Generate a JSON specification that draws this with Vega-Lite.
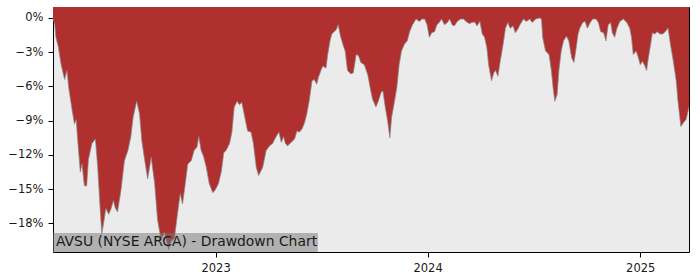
{
  "$schema": "https://vega.github.io/schema/vega-lite/v6.json",
  "autosize": {"type": "none"},
  "width": 636,
  "height": 245,
  "padding": {"left": 53, "top": 7, "right": 11, "bottom": 28},
  "background": "white",
  "config": {
    "view": {"stroke": "black", "strokeWidth": 1, "fill": "#ebebeb"},
    "axis": {
      "domain": false,
      "grid": false,
      "ticks": true,
      "tickColor": "black",
      "tickSize": 5,
      "labelFont": "DejaVu Sans",
      "labelFontSize": 11.5,
      "labelColor": "#1a1a1a",
      "labelPadding": 4,
      "title": null
    }
  },
  "datasets": {
    "dd": [
      {"date": "2022-03-27", "dd": 0},
      {"date": "2022-03-30", "dd": -0.0057},
      {"date": "2022-04-01", "dd": -0.017},
      {"date": "2022-04-05", "dd": -0.025},
      {"date": "2022-04-10", "dd": -0.041},
      {"date": "2022-04-16", "dd": -0.054},
      {"date": "2022-04-20", "dd": -0.046},
      {"date": "2022-04-23", "dd": -0.061},
      {"date": "2022-04-29", "dd": -0.081},
      {"date": "2022-05-03", "dd": -0.093},
      {"date": "2022-05-06", "dd": -0.089},
      {"date": "2022-05-08", "dd": -0.104},
      {"date": "2022-05-13", "dd": -0.135},
      {"date": "2022-05-16", "dd": -0.128},
      {"date": "2022-05-20", "dd": -0.147},
      {"date": "2022-05-24", "dd": -0.147},
      {"date": "2022-05-27", "dd": -0.124},
      {"date": "2022-06-02", "dd": -0.110},
      {"date": "2022-06-08", "dd": -0.106},
      {"date": "2022-06-12", "dd": -0.131},
      {"date": "2022-06-16", "dd": -0.166},
      {"date": "2022-06-19", "dd": -0.189},
      {"date": "2022-06-22", "dd": -0.180},
      {"date": "2022-06-26", "dd": -0.167},
      {"date": "2022-07-01", "dd": -0.172},
      {"date": "2022-07-05", "dd": -0.167},
      {"date": "2022-07-09", "dd": -0.160},
      {"date": "2022-07-12", "dd": -0.166},
      {"date": "2022-07-16", "dd": -0.170},
      {"date": "2022-07-22", "dd": -0.151},
      {"date": "2022-07-28", "dd": -0.125},
      {"date": "2022-08-03", "dd": -0.116},
      {"date": "2022-08-08", "dd": -0.104},
      {"date": "2022-08-12", "dd": -0.087},
      {"date": "2022-08-18", "dd": -0.073},
      {"date": "2022-08-23", "dd": -0.084},
      {"date": "2022-08-27", "dd": -0.108},
      {"date": "2022-09-01", "dd": -0.125},
      {"date": "2022-09-06", "dd": -0.141},
      {"date": "2022-09-12", "dd": -0.122},
      {"date": "2022-09-18", "dd": -0.145},
      {"date": "2022-09-23", "dd": -0.177},
      {"date": "2022-09-29", "dd": -0.194},
      {"date": "2022-10-05", "dd": -0.188},
      {"date": "2022-10-12", "dd": -0.203},
      {"date": "2022-10-16", "dd": -0.196},
      {"date": "2022-10-22", "dd": -0.193},
      {"date": "2022-10-28", "dd": -0.169},
      {"date": "2022-11-01", "dd": -0.154},
      {"date": "2022-11-05", "dd": -0.163},
      {"date": "2022-11-09", "dd": -0.148},
      {"date": "2022-11-14", "dd": -0.128},
      {"date": "2022-11-20", "dd": -0.125},
      {"date": "2022-11-25", "dd": -0.116},
      {"date": "2022-11-30", "dd": -0.113},
      {"date": "2022-12-03", "dd": -0.104},
      {"date": "2022-12-07", "dd": -0.116},
      {"date": "2022-12-11", "dd": -0.121},
      {"date": "2022-12-16", "dd": -0.131},
      {"date": "2022-12-21", "dd": -0.145},
      {"date": "2022-12-27", "dd": -0.153},
      {"date": "2022-12-31", "dd": -0.151},
      {"date": "2023-01-06", "dd": -0.145},
      {"date": "2023-01-11", "dd": -0.134},
      {"date": "2023-01-15", "dd": -0.118},
      {"date": "2023-01-19", "dd": -0.116},
      {"date": "2023-01-25", "dd": -0.110},
      {"date": "2023-01-29", "dd": -0.100},
      {"date": "2023-02-02", "dd": -0.078},
      {"date": "2023-02-07", "dd": -0.073},
      {"date": "2023-02-11", "dd": -0.076},
      {"date": "2023-02-15", "dd": -0.074},
      {"date": "2023-02-19", "dd": -0.084},
      {"date": "2023-02-25", "dd": -0.099},
      {"date": "2023-03-03", "dd": -0.100},
      {"date": "2023-03-07", "dd": -0.110},
      {"date": "2023-03-12", "dd": -0.131},
      {"date": "2023-03-16", "dd": -0.138},
      {"date": "2023-03-20", "dd": -0.134},
      {"date": "2023-03-23", "dd": -0.131},
      {"date": "2023-03-29", "dd": -0.116},
      {"date": "2023-04-04", "dd": -0.112},
      {"date": "2023-04-09", "dd": -0.110},
      {"date": "2023-04-15", "dd": -0.104},
      {"date": "2023-04-20", "dd": -0.100},
      {"date": "2023-04-24", "dd": -0.109},
      {"date": "2023-04-28", "dd": -0.104},
      {"date": "2023-05-01", "dd": -0.110},
      {"date": "2023-05-05", "dd": -0.112},
      {"date": "2023-05-11", "dd": -0.109},
      {"date": "2023-05-17", "dd": -0.106},
      {"date": "2023-05-21", "dd": -0.099},
      {"date": "2023-05-25", "dd": -0.100},
      {"date": "2023-05-30", "dd": -0.097},
      {"date": "2023-06-03", "dd": -0.092},
      {"date": "2023-06-07", "dd": -0.084},
      {"date": "2023-06-11", "dd": -0.073},
      {"date": "2023-06-16", "dd": -0.055},
      {"date": "2023-06-20", "dd": -0.054},
      {"date": "2023-06-24", "dd": -0.058},
      {"date": "2023-06-27", "dd": -0.052},
      {"date": "2023-07-02", "dd": -0.045},
      {"date": "2023-07-05", "dd": -0.042},
      {"date": "2023-07-10", "dd": -0.044},
      {"date": "2023-07-13", "dd": -0.032},
      {"date": "2023-07-17", "dd": -0.020},
      {"date": "2023-07-20", "dd": -0.014},
      {"date": "2023-07-24", "dd": -0.012},
      {"date": "2023-07-28", "dd": -0.010},
      {"date": "2023-07-31", "dd": -0.006},
      {"date": "2023-08-04", "dd": -0.016},
      {"date": "2023-08-08", "dd": -0.023},
      {"date": "2023-08-12", "dd": -0.029},
      {"date": "2023-08-16", "dd": -0.046},
      {"date": "2023-08-22", "dd": -0.049},
      {"date": "2023-08-26", "dd": -0.048},
      {"date": "2023-08-31", "dd": -0.032},
      {"date": "2023-09-04", "dd": -0.033},
      {"date": "2023-09-08", "dd": -0.039},
      {"date": "2023-09-14", "dd": -0.041},
      {"date": "2023-09-20", "dd": -0.050},
      {"date": "2023-09-24", "dd": -0.061},
      {"date": "2023-09-28", "dd": -0.071},
      {"date": "2023-10-04", "dd": -0.078},
      {"date": "2023-10-08", "dd": -0.073},
      {"date": "2023-10-13", "dd": -0.065},
      {"date": "2023-10-16", "dd": -0.064},
      {"date": "2023-10-20", "dd": -0.078},
      {"date": "2023-10-24", "dd": -0.090},
      {"date": "2023-10-28", "dd": -0.105},
      {"date": "2023-10-31", "dd": -0.087},
      {"date": "2023-11-05", "dd": -0.073},
      {"date": "2023-11-09", "dd": -0.061},
      {"date": "2023-11-13", "dd": -0.041},
      {"date": "2023-11-17", "dd": -0.029},
      {"date": "2023-11-22", "dd": -0.023},
      {"date": "2023-11-27", "dd": -0.020},
      {"date": "2023-12-01", "dd": -0.012},
      {"date": "2023-12-06", "dd": -0.006},
      {"date": "2023-12-12", "dd": -0.001},
      {"date": "2023-12-18", "dd": -0.003},
      {"date": "2023-12-22", "dd": -0.001},
      {"date": "2023-12-27", "dd": -0.001},
      {"date": "2023-12-31", "dd": -0.006},
      {"date": "2024-01-04", "dd": -0.017},
      {"date": "2024-01-08", "dd": -0.013},
      {"date": "2024-01-13", "dd": -0.012},
      {"date": "2024-01-17", "dd": -0.006},
      {"date": "2024-01-21", "dd": -0.004},
      {"date": "2024-01-25", "dd": -0.001},
      {"date": "2024-01-30", "dd": -0.006},
      {"date": "2024-02-04", "dd": -0.004},
      {"date": "2024-02-08", "dd": -0.001},
      {"date": "2024-02-12", "dd": -0.006},
      {"date": "2024-02-16", "dd": -0.007},
      {"date": "2024-02-21", "dd": -0.003},
      {"date": "2024-02-27", "dd": -0.001},
      {"date": "2024-03-03", "dd": -0.001},
      {"date": "2024-03-07", "dd": -0.003},
      {"date": "2024-03-13", "dd": -0.005},
      {"date": "2024-03-17", "dd": -0.004},
      {"date": "2024-03-22", "dd": -0.0035},
      {"date": "2024-03-26", "dd": -0.007},
      {"date": "2024-03-31", "dd": -0.003},
      {"date": "2024-04-04", "dd": -0.014},
      {"date": "2024-04-08", "dd": -0.017},
      {"date": "2024-04-12", "dd": -0.026},
      {"date": "2024-04-15", "dd": -0.041},
      {"date": "2024-04-20", "dd": -0.055},
      {"date": "2024-04-24", "dd": -0.048},
      {"date": "2024-04-27", "dd": -0.046},
      {"date": "2024-05-01", "dd": -0.051},
      {"date": "2024-05-05", "dd": -0.038},
      {"date": "2024-05-10", "dd": -0.023},
      {"date": "2024-05-14", "dd": -0.009},
      {"date": "2024-05-18", "dd": -0.004},
      {"date": "2024-05-22", "dd": -0.009},
      {"date": "2024-05-27", "dd": -0.007},
      {"date": "2024-05-31", "dd": -0.013},
      {"date": "2024-06-04", "dd": -0.010},
      {"date": "2024-06-08", "dd": -0.006},
      {"date": "2024-06-14", "dd": -0.001},
      {"date": "2024-06-19", "dd": -0.003},
      {"date": "2024-06-25", "dd": -0.001},
      {"date": "2024-06-29", "dd": -0.004},
      {"date": "2024-07-05", "dd": -0.001},
      {"date": "2024-07-12", "dd": 0},
      {"date": "2024-07-15", "dd": -0.001},
      {"date": "2024-07-17", "dd": -0.017},
      {"date": "2024-07-22", "dd": -0.029},
      {"date": "2024-07-28", "dd": -0.032},
      {"date": "2024-08-01", "dd": -0.046},
      {"date": "2024-08-04", "dd": -0.061},
      {"date": "2024-08-07", "dd": -0.073},
      {"date": "2024-08-11", "dd": -0.067},
      {"date": "2024-08-14", "dd": -0.046},
      {"date": "2024-08-18", "dd": -0.029},
      {"date": "2024-08-22", "dd": -0.020},
      {"date": "2024-08-27", "dd": -0.016},
      {"date": "2024-08-31", "dd": -0.020},
      {"date": "2024-09-05", "dd": -0.035},
      {"date": "2024-09-09", "dd": -0.039},
      {"date": "2024-09-12", "dd": -0.029},
      {"date": "2024-09-16", "dd": -0.014},
      {"date": "2024-09-19", "dd": -0.009},
      {"date": "2024-09-24", "dd": -0.004},
      {"date": "2024-09-28", "dd": -0.003},
      {"date": "2024-10-02", "dd": -0.009},
      {"date": "2024-10-07", "dd": -0.004},
      {"date": "2024-10-11", "dd": -0.001},
      {"date": "2024-10-17", "dd": -0.001},
      {"date": "2024-10-21", "dd": -0.004},
      {"date": "2024-10-25", "dd": -0.012},
      {"date": "2024-10-30", "dd": -0.013},
      {"date": "2024-11-03", "dd": -0.020},
      {"date": "2024-11-07", "dd": -0.006},
      {"date": "2024-11-11", "dd": -0.004},
      {"date": "2024-11-14", "dd": -0.013},
      {"date": "2024-11-18", "dd": -0.017},
      {"date": "2024-11-22", "dd": -0.009},
      {"date": "2024-11-27", "dd": -0.003},
      {"date": "2024-12-03", "dd": -0.001},
      {"date": "2024-12-09", "dd": -0.004},
      {"date": "2024-12-14", "dd": -0.009},
      {"date": "2024-12-17", "dd": -0.017},
      {"date": "2024-12-20", "dd": -0.032},
      {"date": "2024-12-25", "dd": -0.029},
      {"date": "2024-12-29", "dd": -0.035},
      {"date": "2025-01-01", "dd": -0.041},
      {"date": "2025-01-05", "dd": -0.038},
      {"date": "2025-01-09", "dd": -0.042},
      {"date": "2025-01-12", "dd": -0.046},
      {"date": "2025-01-15", "dd": -0.035},
      {"date": "2025-01-19", "dd": -0.023},
      {"date": "2025-01-22", "dd": -0.013},
      {"date": "2025-01-26", "dd": -0.014},
      {"date": "2025-01-30", "dd": -0.012},
      {"date": "2025-02-04", "dd": -0.014},
      {"date": "2025-02-09", "dd": -0.014},
      {"date": "2025-02-13", "dd": -0.012},
      {"date": "2025-02-18", "dd": -0.009},
      {"date": "2025-02-22", "dd": -0.023},
      {"date": "2025-02-27", "dd": -0.038},
      {"date": "2025-03-04", "dd": -0.055},
      {"date": "2025-03-07", "dd": -0.073},
      {"date": "2025-03-12", "dd": -0.095},
      {"date": "2025-03-16", "dd": -0.092},
      {"date": "2025-03-21", "dd": -0.089},
      {"date": "2025-03-26", "dd": -0.078}
    ],
    "label": [
      {"title": "AVSU (NYSE ARCA) - Drawdown Chart", "start": "2022-03-27", "end": "2023-06-26", "low": -0.205, "high": -0.1883, "mid": -0.1963}
    ]
  },
  "layer": [
    {
      "data": {"name": "dd"},
      "mark": {"type": "area", "color": "#b03030", "clip": true},
      "encoding": {
        "x": {
          "field": "date",
          "type": "temporal",
          "scale": {"domain": [{"year": 2022, "month": 3, "date": 27}, {"year": 2025, "month": 3, "date": 26}]},
          "axis": {
            "values": [{"year": 2023, "month": 1, "date": 1}, {"year": 2024, "month": 1, "date": 1}, {"year": 2025, "month": 1, "date": 1}],
            "format": "%Y",
            "labelPadding": 5
          }
        },
        "y": {
          "field": "dd",
          "type": "quantitative",
          "scale": {"domain": [-0.205, 0.0096], "nice": false, "zero": false},
          "axis": {
            "values": [0, -0.03, -0.06, -0.09, -0.12, -0.15, -0.18],
            "format": ".0%",
            "labelPadding": 5
          }
        },
        "y2": {"datum": 0.0096}
      }
    },
    {
      "data": {"name": "dd"},
      "mark": {"type": "line", "color": "#8a8a8a", "strokeWidth": 0.9, "opacity": 0.8, "clip": true},
      "encoding": {
        "x": {"field": "date", "type": "temporal"},
        "y": {"field": "dd", "type": "quantitative"}
      }
    },
    {
      "data": {"name": "label"},
      "mark": {"type": "rect", "color": "#777777", "opacity": 0.5},
      "encoding": {
        "x": {"field": "start", "type": "temporal"},
        "x2": {"field": "end"},
        "y": {"field": "low", "type": "quantitative"},
        "y2": {"field": "high"}
      }
    },
    {
      "data": {"name": "label"},
      "mark": {"type": "text", "align": "left", "baseline": "middle", "dx": 3, "font": "DejaVu Sans", "fontSize": 13.9, "color": "#1a1a1a"},
      "encoding": {
        "x": {"field": "start", "type": "temporal"},
        "y": {"field": "mid", "type": "quantitative"},
        "text": {"field": "title"}
      }
    }
  ]
}
